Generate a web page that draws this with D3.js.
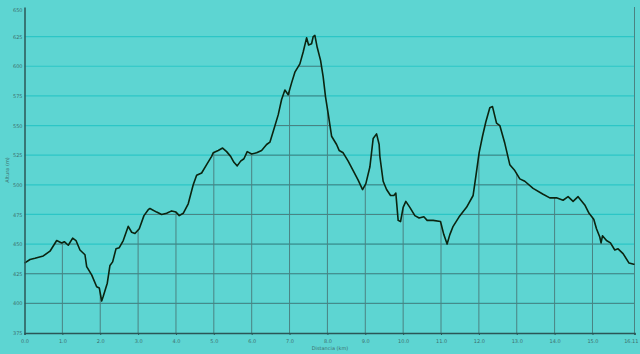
<!DOCTYPE html>
<html lang="es">
<head>
<meta charset="utf-8">
<script src="https://cdnjs.cloudflare.com/ajax/libs/d3/7.8.5/d3.min.js"></script>
<style>
  html, body { margin: 0; padding: 0; background: #5dd5d2; }
  svg { display: block; }
  .lbl { font-family: "DejaVu Sans", sans-serif; font-size: 5px; fill: #3d6f6f; }
</style>
</head>
<body>
<svg id="chart"></svg>
<script>
var dist = [0.00, 0.145, 0.277, 0.496, 0.673, 0.850, 0.982, 1.051, 1.156, 1.272, 1.360, 1.465, 1.597, 1.642, 1.774, 1.906, 1.975, 2.038, 2.080, 2.186, 2.257, 2.328, 2.416, 2.503, 2.608, 2.740, 2.830, 2.917, 3.031, 3.155, 3.268,
  3.313, 3.490, 3.622, 3.754, 3.886, 4.000, 4.087, 4.192, 4.324, 4.456, 4.546, 4.678, 4.810, 4.942, 4.984, 5.116, 5.232, 5.338, 5.444, 5.531, 5.618, 5.708, 5.795, 5.882, 5.998, 6.130, 6.262, 6.394, 6.481,
  6.568, 6.700, 6.790, 6.877, 6.964, 7.054, 7.141, 7.273, 7.360, 7.450, 7.503, 7.582, 7.624, 7.669, 7.730, 7.819, 7.888, 7.951, 8.020, 8.110, 8.242, 8.310, 8.416, 8.548, 8.680, 8.812, 8.928, 9.015, 9.121, 9.208, 9.298, 9.366,
  9.385, 9.472, 9.562, 9.667, 9.754, 9.807, 9.868, 9.931, 10.000, 10.071, 10.177, 10.309, 10.422, 10.547, 10.634, 10.792, 10.987, 11.074, 11.161, 11.233, 11.320, 11.478, 11.674, 11.848, 11.919, 12.006, 12.096, 12.183,
  12.289, 12.360, 12.466, 12.553, 12.685, 12.817, 12.949, 13.081, 13.213, 13.432, 13.696, 13.873, 14.050, 14.224, 14.356, 14.488, 14.620, 14.797, 14.910, 15.034, 15.106, 15.193, 15.227, 15.264, 15.370, 15.475, 15.589, 15.676, 15.808, 15.966, 16.09, 16.11];
var alt = [434, 437, 438, 440, 444, 453, 451, 452, 449, 455, 453, 445, 441, 431, 424, 414, 413, 402, 406, 417, 432, 435, 446, 447, 453, 465, 460, 459, 463, 474, 479,
  480, 477, 475, 476, 478, 477, 474, 476, 484, 500, 508, 510, 517, 524, 527, 529, 531, 528, 524, 519, 516, 520, 522, 528, 526, 527, 529, 534, 536,
  545, 559, 572, 580, 576, 586, 595, 602, 612, 624, 618, 619, 625, 626, 616, 605, 591, 574, 560, 541, 534, 529, 527, 520, 512, 504, 496, 501, 515, 539, 543, 534,
  524, 503, 496, 491, 491, 493, 470, 469, 481, 486, 481, 474, 472, 473, 470, 470, 469, 458, 450, 458, 465, 473, 481, 491, 507, 527, 541, 553,
  565, 566, 552, 550, 535, 517, 512, 505, 503, 497, 492, 489, 489, 487, 490, 486, 490, 483, 476, 471, 463, 456, 451, 457, 453, 451, 445, 446, 442, 434, 433, 433];

var xTicks = [0, 1, 2, 3, 4, 5, 6, 7, 8, 9, 10, 11, 12, 13, 14, 15, 16.11];
var yTicks = [375, 400, 425, 450, 475, 500, 525, 550, 575, 600, 625, 650];

var width = 640, height = 354;
var svg = d3.select("#chart").attr("width", width).attr("height", height);

var x = d3.scaleLinear().domain([0, 16.11]).range([24.5, 634.5]);
var y = d3.scaleLinear().domain([375, 650]).range([333, 7]);

var pts = dist.map(function(d, i) { return [d, alt[i]]; });

// zona bajo el perfil: ahi la rejilla se ve oscura
var area = d3.area()
    .x(function(d) { return x(d[0]); })
    .y0(y(375))
    .y1(function(d) { return y(d[1]); });

svg.append("clipPath").attr("id", "under")
  .append("path").attr("d", area(pts));

// rejilla horizontal clara
svg.append("g").selectAll("line")
  .data(yTicks.slice(1, -1))
  .enter().append("line")
    .attr("x1", x(0)).attr("x2", x(16.11))
    .attr("y1", function(d) { return y(d); })
    .attr("y2", function(d) { return y(d); })
    .attr("stroke", "#2cc6c6").attr("stroke-width", 1.2);

// rejilla oscura dentro del perfil
var dark = svg.append("g").attr("clip-path", "url(#under)");
dark.selectAll(".h")
  .data(yTicks.slice(1, -1))
  .enter().append("line")
    .attr("x1", x(0)).attr("x2", x(16.11))
    .attr("y1", function(d) { return y(d); })
    .attr("y2", function(d) { return y(d); })
    .attr("stroke", "#4a8282").attr("stroke-width", 1);
dark.selectAll(".v")
  .data(xTicks.slice(1))
  .enter().append("line")
    .attr("x1", function(d) { return x(d); })
    .attr("x2", function(d) { return x(d); })
    .attr("y1", y(375)).attr("y2", y(650))
    .attr("stroke", "#4a8282").attr("stroke-width", 1);

// borde derecho
svg.append("line")
  .attr("x1", x(16.11)).attr("x2", x(16.11))
  .attr("y1", y(375)).attr("y2", y(650))
  .attr("stroke", "#4a8282").attr("stroke-width", 1);

// perfil
var line = d3.line()
    .x(function(d) { return x(d[0]); })
    .y(function(d) { return y(d[1]); });

svg.append("path")
  .attr("d", line(pts))
  .attr("fill", "none")
  .attr("stroke", "#0b2410")
  .attr("stroke-width", 1.6)
  .attr("stroke-linejoin", "round");

// ejes
var xAxis = svg.append("g").attr("transform", "translate(0," + y(375) + ")")
  .call(d3.axisBottom(x).tickValues(xTicks).tickSize(2).tickPadding(4)
    .tickFormat(function(d) { return d === 16.11 ? "16.11" : d3.format(".1f")(d); }));
var yAxis = svg.append("g").attr("transform", "translate(" + x(0) + ",0)")
  .call(d3.axisLeft(y).tickValues(yTicks).tickSize(0).tickPadding(2));

[xAxis, yAxis].forEach(function(g) {
  g.select(".domain").attr("stroke", "#2b5656").attr("stroke-width", 1.5);
  g.selectAll(".tick line").attr("stroke", "#2b5656");
  g.selectAll("text").attr("class", "lbl").attr("font-family", null).attr("font-size", null);
});
yAxis.selectAll(".tick").filter(function(d) { return d === 650; })
  .select("text").attr("dy", "0.9em");
xAxis.selectAll(".tick").filter(function(d) { return d === 16.11; })
  .select("text").attr("text-anchor", "end").attr("dx", "3.5");

svg.append("text").attr("class", "lbl")
  .attr("x", 330).attr("y", 350).attr("text-anchor", "middle")
  .text("Distancia (km)");
svg.append("text").attr("class", "lbl")
  .attr("transform", "translate(9,170) rotate(-90)")
  .attr("text-anchor", "middle")
  .text("Altura (m)");
</script>
</body>
</html>
